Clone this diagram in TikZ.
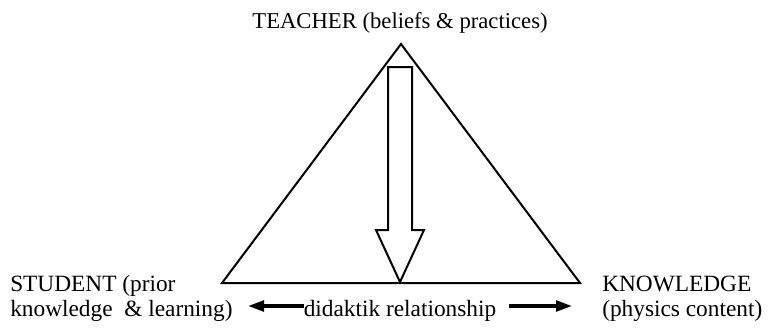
\documentclass[tikz,border=0pt]{standalone}
\usepackage{fontspec}
\setmainfont{Liberation Serif}
\usetikzlibrary{positioning, arrows.meta}

\begin{document}
\begin{tikzpicture}[
    x=0.75pt, y=-0.75pt,
    % Styles
    label_text/.style={font=\fontsize{17.5}{18.75}\selectfont, align=left, inner sep=0pt},
    side_line/.style={line width=1.5pt, line join=miter},
    hollow_arrow/.style={line width=1.5pt, line join=miter, fill=white},
    rel_arrow/.style={line width=2.5pt, -{Triangle[length=12pt, width=8pt]}}
]

\useasboundingbox (0,0) rectangle (770,329);

% Triangle corners
\coordinate (apex) at (401,44);
\coordinate (base_l) at (222,283);
\coordinate (base_r) at (580,283);
\draw[side_line] (apex) -- (base_l) -- (base_r) -- cycle;

% Downward hollow arrow
\draw[hollow_arrow] (388,67) -- (412,67) -- (412,230) -- (424,230)
    -- (400,282) -- (376,230) -- (388,230) -- cycle;

% Labels (base = baseline of the last line)
\node[label_text, font=\fontsize{17}{18.75}\selectfont, anchor=base] (teacher)
    at (400,28) {TEACHER (beliefs \& practices)};
\node[label_text, anchor=base west] (student) at (10,316)
    {STUDENT (prior\\knowledge \ \& learning)};
\node[label_text, anchor=base west] (knowledge) at (602,316)
    {KNOWLEDGE\\(physics content)};
\node[label_text, anchor=base] (relation) at (400,316) {didaktik relationship};

% Relationship arrows
\coordinate (rel_l) at (248,306);
\coordinate (rel_r) at (572,306);
\draw[rel_arrow] (relation.west |- rel_l) -- (rel_l);
\draw[rel_arrow] ([xshift=9pt]relation.east |- rel_r) -- (rel_r);

\end{tikzpicture}
\end{document}
